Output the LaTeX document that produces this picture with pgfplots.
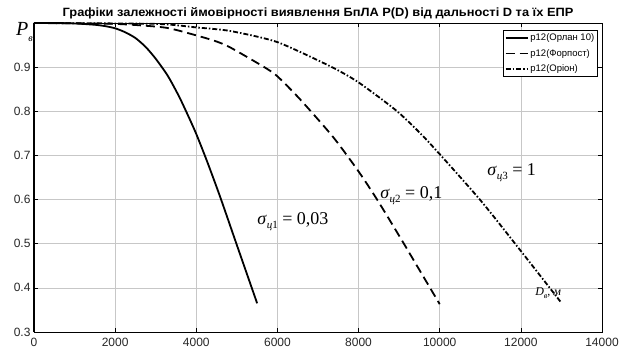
\documentclass[border=0pt]{standalone}
\usepackage{pgfplots}
\pgfplotsset{compat=1.18}
\usepackage{fontspec}
\setmainfont{Liberation Sans}
\newfontfamily\tnr{Liberation Serif}
\newfontfamily\titlefont[FakeStretch=1.07]{Liberation Sans}
\begin{document}
\begin{tikzpicture}[x=1pt,y=1pt]
\path[use as bounding box] (0,0) rectangle (624,360);
\begin{axis}[
  at={(34pt,28pt)}, anchor=south west,
  scale only axis, width=568pt, height=309pt,
  xmin=0, xmax=14000, ymin=0.3, ymax=1,
  xtick={0,2000,4000,6000,8000,10000,12000,14000},
  ytick={0.3,0.4,0.5,0.6,0.7,0.8,0.9},
  grid=major, major grid style={black!22, line width=0.5pt},
  tick align=inside, major tick length=4pt,
  tick style={black, line width=0.6pt},
  axis line style={black, line width=0.8pt},
  tick label style={font=\fontsize{12}{12}\selectfont, text=black!85},
  /pgf/number format/assume math mode=true,
  scaled x ticks=false,
  x tick label style={/pgf/number format/1000 sep={}, yshift=-3pt},
  y tick label style={/pgf/number format/fixed},
  clip=false,
  title={Графіки залежності ймовірності виявлення БпЛА P(D) від дальності D та їх ЕПР},
  title style={at={(0.5,1)}, anchor=base, yshift=1pt, font=\titlefont\bfseries\fontsize{12}{12}\selectfont},
  legend style={at={(0.993,0.977)}, anchor=north east, font=\fontsize{9.5}{10}\selectfont,
    draw=black, line width=0.6pt, inner sep=1.5pt, row sep=3pt, cells={anchor=west}, fill=white},
  legend image code/.code={\draw[#1] (0pt,0pt) -- (22pt,0pt);},
]
\addplot[black, line width=2pt, forget plot] coordinates {(0,0.3) (0,1)};
\addplot[black, line width=1.8pt, smooth, tension=0.4] coordinates {
(0,1.0) (500,1.0) (1000,0.999) (1500,0.996) (1750,0.993) (2000,0.988) (2250,0.979)
(2500,0.966) (2750,0.946) (3000,0.919) (3300,0.880) (3600,0.829) (3970,0.755)
(4260,0.688) (4585,0.607) (5000,0.497) (5500,0.365)};
\addlegendentry{p12(Орлан 10)}
\addplot[black, line width=1.8pt, smooth, tension=0.4, dash pattern=on 9pt off 5pt] coordinates {
(0,1.0) (2000,0.998) (3200,0.990) (3800,0.977) (4440,0.960) (4830,0.945) (5640,0.902)
(5990,0.880) (6560,0.827) (7370,0.742) (7990,0.665) (8450,0.601) (9020,0.515)
(9510,0.439) (10000,0.363)};
\addlegendentry{p12(Форпост)}
\addplot[black, line width=1.8pt, smooth, tension=0.4, dash pattern=on 5pt off 2pt on 1.5pt off 2pt] coordinates {
(0,1.0) (3000,0.998) (4000,0.990) (4830,0.982) (5990,0.957) (7300,0.902) (7990,0.866)
(8950,0.800) (9700,0.733) (10990,0.600) (12030,0.480) (13000,0.366)};
\addlegendentry{p12(Оріон)}
\node[anchor=base west, inner sep=0pt, font=\tnr\fontsize{18}{18}\selectfont] at (axis cs:5500,0.543)
  {\textit{σ}\raisebox{-4pt}{\fontsize{11}{11}\selectfont\textit{ц}1} = 0,03};
\node[anchor=base west, inner sep=0pt, font=\tnr\fontsize{18}{18}\selectfont] at (axis cs:8530,0.602)
  {\textit{σ}\raisebox{-4pt}{\fontsize{11}{11}\selectfont\textit{ц}2} = 0,1};
\node[anchor=base west, inner sep=0pt, font=\tnr\fontsize{18}{18}\selectfont] at (axis cs:11170,0.655)
  {\textit{σ}\raisebox{-4pt}{\fontsize{11}{11}\selectfont\textit{ц}3} = 1};
\node[anchor=base west, inner sep=0pt, font=\tnr\itshape\fontsize{12}{12}\selectfont] at (axis cs:12350,0.382)
  {D\raisebox{-3pt}{\fontsize{8}{8}\selectfont в}, м};
\node[anchor=north east, inner sep=0pt, font=\tnr\itshape\fontsize{20}{20}\selectfont] at (rel axis cs:0,1)
  [xshift=-1pt, yshift=1pt] {P\raisebox{-6pt}{\fontsize{10}{10}\selectfont в}};
\end{axis}
\end{tikzpicture}
\end{document}
